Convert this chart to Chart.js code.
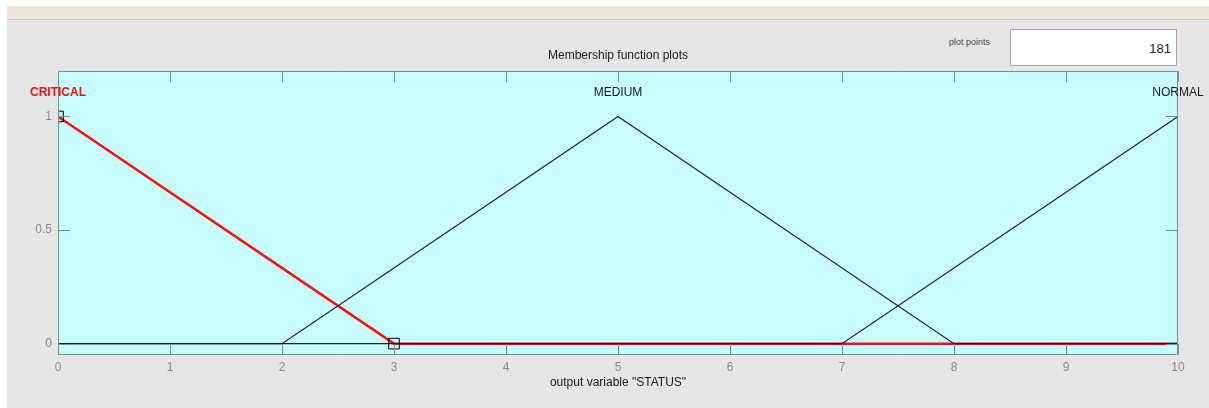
<!DOCTYPE html>
<html>
<head>
<meta charset="utf-8">
<script src="https://cdn.jsdelivr.net/npm/chart.js@4"></script>
<style>
  html, body { margin: 0; padding: 0; background: #fff; }
  body { width: 1209px; height: 408px; position: relative; overflow: hidden; font-family: Arial, "Liberation Sans", sans-serif; }
  #strip { position: absolute; left: 7px; top: 6px; width: 1202px; height: 13px; background: #ede6d8; border-bottom: 1px solid #cfc7b6; }
  #panel { position: absolute; left: 7px; top: 20px; width: 1202px; height: 388px; background: #e5e5e5; }
  #chart { position: absolute; left: 0; top: 0; }
  #pp-label { position: absolute; left: 949px; top: 36px; font-size: 9px; line-height: 12px; color: #444; }
  #pp-box { position: absolute; left: 1010px; top: 29px; width: 165px; height: 35px; background: #fff; border: 1px solid #9aa6b6; font-size: 13px; line-height: 37px; text-align: right; }
  #pp-box span { padding-right: 5px; color: #222; }
</style>
</head>
<body>
<div id="strip"></div>
<div id="panel"></div>
<canvas id="chart" width="1209" height="408"></canvas>
<div id="pp-label">plot points</div>
<div id="pp-box"><span>181</span></div>
<script>
// membership functions of output variable STATUS
const xTicks = [0, 1, 2, 3, 4, 5, 6, 7, 8, 9, 10];
const yTicks = [0, 0.5, 1];

const criticalX = [0, 3, 10];
const criticalY = [1, 0, 0];
const mediumX = [0, 2, 5, 8, 10];
const mediumY = [0, 0, 1, 0, 0];
const normalX = [0, 7, 10];
const normalY = [0, 0, 1];

// square handles of the selected function (CRITICAL)
const handleX = [0, 3];
const handleY = [1, 0];

const mfNames = ["CRITICAL", "MEDIUM", "NORMAL"];
const mfPeaks = [0, 5, 10];
const nameLevel = 1.105;

const plotTitle = "Membership function plots";
const xTitle = 'output variable "STATUS"';

const boxColor = "#6c9093";

function toPoints(xs, ys) {
    let pts = [];
    for (let i = 0; i < xs.length; i++)
        pts.push({ x: xs[i], y: ys[i] });
    return pts;
}

function fixedTicks(list) {
    return scale => {
        scale.ticks = list.map(v => ({ value: v }));
    };
}

const matlabAxes = {
    id: "matlabAxes",
    beforeDatasetsDraw(chart) {
        const { ctx, chartArea: a } = chart;
        ctx.save();
        ctx.fillStyle = "#c8fbfc";
        ctx.fillRect(a.left, a.top, a.width, a.height);
        ctx.restore();
    },
    afterDraw(chart) {
        const { ctx, chartArea: a, scales } = chart;
        const x = scales.x, y = scales.y;
        ctx.save();
        ctx.strokeStyle = boxColor;
        ctx.lineWidth = 1;
        ctx.beginPath();
        ctx.rect(a.left + 0.5, a.top + 0.5, a.width - 1, a.height - 1);
        for (let v of xTicks) {
            const px = Math.round(x.getPixelForValue(v)) + 0.5;
            ctx.moveTo(px, a.bottom);
            ctx.lineTo(px, a.bottom - 11);
            ctx.moveTo(px, a.top);
            ctx.lineTo(px, a.top + 11);
        }
        for (let v of yTicks) {
            const py = Math.round(y.getPixelForValue(v)) + 0.5;
            ctx.moveTo(a.left, py);
            ctx.lineTo(a.left + 12, py);
            ctx.moveTo(a.right, py);
            ctx.lineTo(a.right - 12, py);
        }
        ctx.stroke();

        ctx.textAlign = "center";
        ctx.textBaseline = "middle";
        for (let i = 0; i < mfNames.length; i++) {
            ctx.font = i == 0 ? "bold 12px Arial" : "12px Arial";
            ctx.fillStyle = i == 0 ? "#f01010" : "#1a1a1a";
            ctx.fillText(mfNames[i], x.getPixelForValue(mfPeaks[i]), y.getPixelForValue(nameLevel));
        }

        const cx = (a.left + a.right) / 2;
        ctx.font = "12px Arial";
        ctx.fillStyle = "#1a1a1a";
        ctx.fillText(plotTitle, cx, 56);
        ctx.fillText(xTitle, cx, 383);
        ctx.restore();
    }
};

new Chart(document.getElementById("chart"), {
    type: "scatter",
    data: {
        datasets: [
            {
                label: "handles",
                data: toPoints(handleX, handleY),
                showLine: false,
                pointStyle: "rect",
                pointRadius: 7.5,
                pointBorderColor: "#000",
                pointBackgroundColor: "rgba(0,0,0,0)",
                pointBorderWidth: 1,
                clip: 0
            },
            {
                label: "NORMAL",
                data: toPoints(normalX, normalY),
                showLine: true,
                borderColor: "#1a2222",
                borderWidth: 1.2,
                pointRadius: 0
            },
            {
                label: "MEDIUM",
                data: toPoints(mediumX, mediumY),
                showLine: true,
                borderColor: "#1a2222",
                borderWidth: 1.2,
                pointRadius: 0
            },
            {
                label: "CRITICAL",
                data: toPoints(criticalX, criticalY),
                showLine: true,
                borderColor: "#f01414",
                borderWidth: 2.5,
                pointRadius: 0
            }
        ]
    },
    options: {
        responsive: false,
        animation: false,
        devicePixelRatio: 1,
        layout: { padding: { top: 71, right: 31, bottom: 0, left: 0 } },
        plugins: {
            legend: { display: false },
            tooltip: { enabled: false }
        },
        scales: {
            x: {
                type: "linear",
                min: 0,
                max: 10,
                afterBuildTicks: fixedTicks(xTicks),
                afterFit: s => { s.height = 53; },
                grid: { display: false, drawTicks: false },
                border: { display: false },
                ticks: {
                    color: "#8a8a8a",
                    font: { family: "Arial", size: 12 },
                    padding: 5,
                    maxRotation: 0,
                    autoSkip: false,
                    callback: v => String(v)
                }
            },
            y: {
                type: "linear",
                min: -0.05,
                max: 1.2,
                afterBuildTicks: fixedTicks(yTicks),
                afterFit: s => { s.width = 58; },
                grid: { display: false, drawTicks: false },
                border: { display: false },
                ticks: {
                    color: "#8a8a8a",
                    font: { family: "Arial", size: 12 },
                    padding: 6,
                    callback: v => String(v)
                }
            }
        }
    },
    plugins: [matlabAxes]
});
</script>
</body>
</html>
